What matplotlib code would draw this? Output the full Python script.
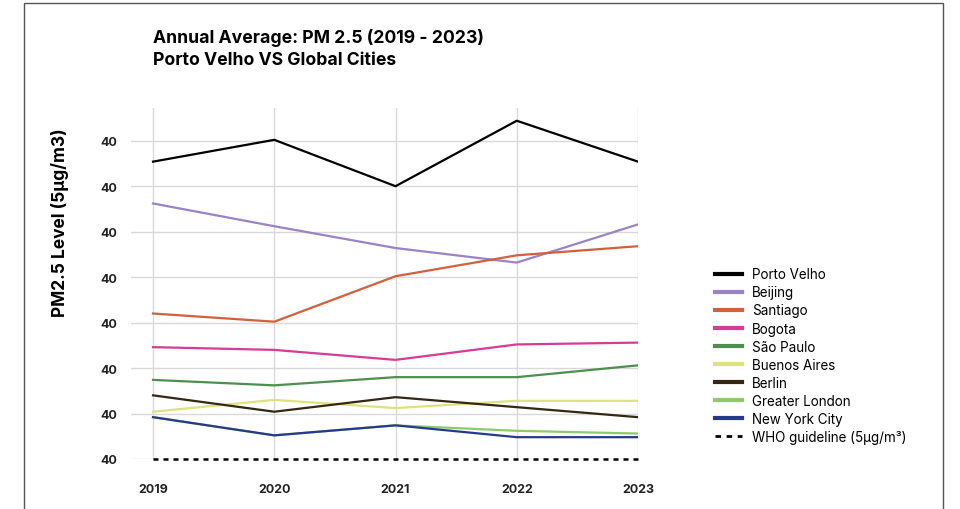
import matplotlib.pyplot as plt
from matplotlib.lines import Line2D
from matplotlib.patches import Rectangle

# ----- DATA -----
years = [2019, 2020, 2021, 2022, 2023]

porto_velho = [37.7, 40.1, 35.0, 42.2, 37.7]
beijing = [33.1, 30.6, 28.2, 26.6, 30.8]
santiago = [21.0, 20.1, 25.1, 27.4, 28.4]
bogota = [17.3, 17.0, 15.9, 17.6, 17.8]
sao_paulo = [13.7, 13.1, 14.0, 14.0, 15.3]
buenos_aires = [10.2, 11.5, 10.6, 11.4, 11.4]
berlin = [12.0, 10.2, 11.8, 10.7, 9.6]
greater_london = [9.6, 7.6, 8.7, 8.1, 7.8]
new_york = [9.6, 7.6, 8.7, 7.4, 7.4]
who_guideline = [5, 5, 5, 5, 5]

cities = ["Porto Velho", "Beijing", "Santiago", "Bogota", "São Paulo",
          "Buenos Aires", "Berlin", "Greater London", "New York City"]
series = [porto_velho, beijing, santiago, bogota, sao_paulo,
          buenos_aires, berlin, greater_london, new_york]
colors = ["#000000", "#9b82c6", "#d2603a", "#d63c95", "#4e8e4e",
          "#dde27c", "#352712", "#8ccb6c", "#263a8c"]

y_ticks = [5, 10, 15, 20, 25, 30, 35, 40]
y_tick_labels = ["40"] * len(y_ticks)

# ----- PLOT -----
plt.rcParams['font.family'] = ['Inter', 'DejaVu Sans']

fig = plt.figure(figsize=(9.6, 5.1), dpi=100)
ax = fig.add_axes([131 / 960, 1 - 460 / 510, (638 - 131) / 960, (460 - 109) / 510])

# outer frame
fig.patches.append(Rectangle((24 / 960, -0.01), (943 - 24) / 960, 1 - 4 / 510 + 0.01,
                             transform=fig.transFigure, fill=False,
                             edgecolor="#555555", linewidth=1))

# New York drawn last so it sits over London
for i, vals in enumerate(series):
    ax.plot(years, vals, color=colors[i], linewidth=1.6, zorder=3 + (i == 8))

ax.plot(years, who_guideline, color="black", linestyle=(0, (2, 2)), linewidth=1.8,
        zorder=5, clip_on=False)

ax.set_xlim(2019 - 22 / 121, 2023)
ax.set_ylim(5, 43.6)
ax.set_xticks(years)
ax.set_xticklabels([str(y) for y in years], fontsize=9, fontweight="bold", color="#222222")
ax.set_yticks(y_ticks)
ax.set_yticklabels(y_tick_labels, fontsize=9, fontweight="bold", color="#222222")
ax.tick_params(axis="x", length=0, pad=17)
ax.tick_params(axis="y", length=0, pad=10)
ax.grid(True, color="#d9d9d9", linewidth=1)
ax.set_axisbelow(True)
for s in ax.spines.values():
    s.set_visible(False)

ax.set_ylabel("PM2.5 Level (5µg/m3)", fontsize=12.5, fontweight="bold")
ax.yaxis.set_label_coords((69 - 131) / 507, (460 - 223) / 351)

fig.text(153 / 960, 1 - 49 / 510, "Annual Average: PM 2.5 (2019 - 2023)\nPorto Velho VS Global Cities",
         fontsize=12.7, fontweight="bold", va="center", ha="left", linespacing=1.45)

handles = [Line2D([0], [0], color=c, linewidth=3) for c in colors]
handles.append(Line2D([0], [0], color="black", linestyle=(0, (2, 2)), linewidth=2))
labels = cities + ["WHO guideline (5µg/m³)"]
fig.legend(handles, labels, loc="upper left", bbox_to_anchor=(710 / 960, 1 - 263 / 510),
           frameon=False, fontsize=9.7, handlelength=2.0, handletextpad=0.7,
           labelspacing=0.3, borderaxespad=0)

fig.savefig("out.png", dpi=100)
